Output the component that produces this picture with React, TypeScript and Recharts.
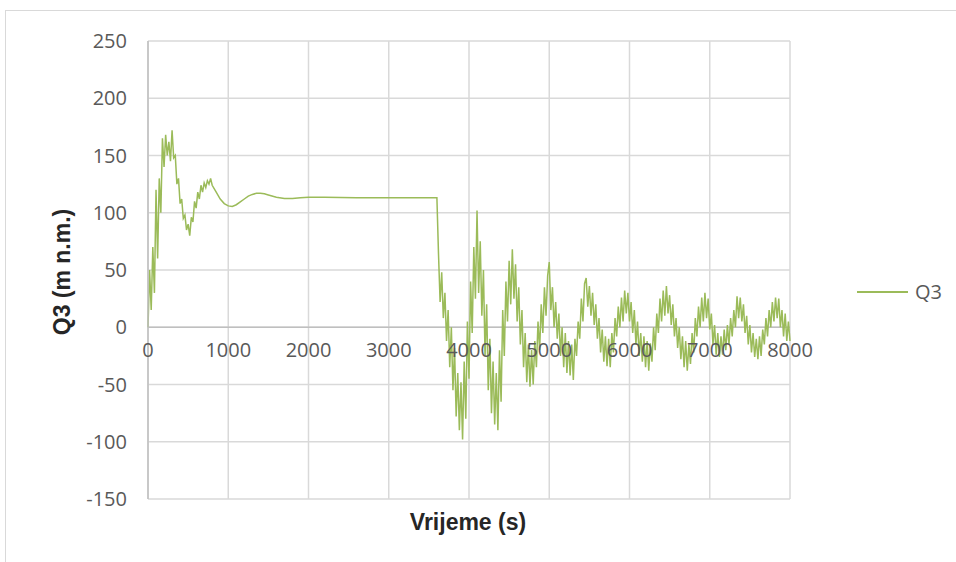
import React from 'react';
import {
  LineChart,
  Line,
  XAxis,
  YAxis,
  CartesianGrid,
  Legend,
  ReferenceLine,
} from 'recharts';

// start-up phase, sampled every 20 s
const startupTime = [
  0, 20, 40, 60, 80, 100, 120, 140, 160, 180,
  200, 220, 240, 260, 280, 300, 320, 340, 360, 380,
  400, 420, 440, 460, 480, 500, 520, 540, 560, 580,
  600, 620, 640, 660, 680, 700, 720, 740, 760, 780,
  800,
];
const startupQ3 = [
  0, 50, 15, 70, 30, 120, 60, 130, 100, 165,
  140, 168, 150, 162, 145, 172, 148, 150, 125, 130,
  108, 112, 95, 98, 85, 90, 80, 96, 92, 110,
  104, 118, 112, 124, 118, 126, 122, 128, 125, 130,
  124,
];

// smooth settling until the disturbance
const settleTime = [
  850, 900, 950, 1000, 1050, 1100, 1150, 1200, 1250, 1300,
  1350, 1400, 1450, 1500, 1600, 1700, 1800, 1900, 2000, 2200,
  2400, 2600, 2800, 3000, 3200, 3400, 3600,
];
const settleQ3 = [
  118, 112, 108, 106, 105.5, 107, 109.5, 112, 114.5, 116,
  117, 117, 116.5, 115.5, 113.5, 112.5, 112.5, 113, 113.5, 113.5,
  113.3, 113.2, 113.2, 113.2, 113.2, 113.2, 113.2,
];

// oscillations after the drop, sampled every 20 s
const transientTime = [
  3620, 3640, 3660, 3680, 3700, 3720, 3740, 3760, 3780, 3800,
  3820, 3840, 3860, 3880, 3900, 3920, 3940, 3960, 3980, 4000,
  4020, 4040, 4060, 4080, 4100, 4120, 4140, 4160, 4180, 4200,
  4220, 4240, 4260, 4280, 4300, 4320, 4340, 4360, 4380, 4400,
  4420, 4440, 4460, 4480, 4500, 4520, 4540, 4560, 4580, 4600,
  4620, 4640, 4660, 4680, 4700, 4720, 4740, 4760, 4780, 4800,
  4820, 4840, 4860, 4880, 4900, 4920, 4940, 4960, 4980, 5000,
  5020, 5040, 5060, 5080, 5100, 5120, 5140, 5160, 5180, 5200,
  5220, 5240, 5260, 5280, 5300, 5320, 5340, 5360, 5380, 5400,
  5420, 5440, 5460, 5480, 5500, 5520, 5540, 5560, 5580, 5600,
  5620, 5640, 5660, 5680, 5700, 5720, 5740, 5760, 5780, 5800,
  5820, 5840, 5860, 5880, 5900, 5920, 5940, 5960, 5980, 6000,
  6020, 6040, 6060, 6080, 6100, 6120, 6140, 6160, 6180, 6200,
  6220, 6240, 6260, 6280, 6300, 6320, 6340, 6360, 6380, 6400,
  6420, 6440, 6460, 6480, 6500, 6520, 6540, 6560, 6580, 6600,
  6620, 6640, 6660, 6680, 6700, 6720, 6740, 6760, 6780, 6800,
  6820, 6840, 6860, 6880, 6900, 6920, 6940, 6960, 6980, 7000,
  7020, 7040, 7060, 7080, 7100, 7120, 7140, 7160, 7180, 7200,
  7220, 7240, 7260, 7280, 7300, 7320, 7340, 7360, 7380, 7400,
  7420, 7440, 7460, 7480, 7500, 7520, 7540, 7560, 7580, 7600,
  7620, 7640, 7660, 7680, 7700, 7720, 7740, 7760, 7780, 7800,
  7820, 7840, 7860, 7880, 7900, 7920, 7940, 7960, 7980, 8000,
];
const transientQ3 = [
  64, 22, 48, 8, 30, -12, 15, -35, 0, -55,
  -18, -78, -40, -90, -48, -98, -30, -80, 5, -45,
  40, -5, 70, 25, 102, 30, 75, 10, 50, -25,
  20, -55, -10, -75, -30, -85, -40, -90, -20, -65,
  15, -25, 40, 5, 58, 20, 68, 25, 55, 5,
  35, -15, 15, -35, -5, -48, -15, -52, -20, -50,
  -12, -35, 5, -20, 20, -5, 35, 10, 45, 57,
  15, 35, 0, 22, -10, 12, -25, 0, -35, -5,
  -40, -12, -42, -15, -46, -10, -25, 5, -10, 25,
  5, 38, 43, 18, 36, 10, 30, 2, 20, -10,
  8, -22, -2, -30, -8, -34, -10, -35, -5, -22,
  8, -8, 18, 0, 26, 5, 32, 12, 30, 5,
  22, -5, 15, -15, 5, -25, -5, -30, -8, -35,
  -12, -38, -14, -30, 0, -20, 12, -5, 25, 5,
  32, 10, 36, 12, 28, 2, 20, -8, 8, -18,
  0, -28, -8, -35, -12, -38, -15, -32, -5, -22,
  8, -8, 18, 0, 26, 5, 30, 8, 25, -2,
  12, -15, 2, -24, -5, -26, -8, -24, -2, -20,
  2, -15, 8, -8, 15, 0, 27, 8, 26, 5,
  20, -5, 10, -15, 2, -22, -5, -26, -10, -28,
  -8, -25, -2, -15, 8, -8, 15, 0, 22, 5,
  26, 8, 25, 0, 15, -8, 12, -12, 5, -12,
];

const xTicks = [0, 1000, 2000, 3000, 4000, 5000, 6000, 7000, 8000];
const yTicks = [-150, -100, -50, 0, 50, 100, 150, 200, 250];

const allTime = [...startupTime, ...settleTime, ...transientTime];
const allQ3 = [...startupQ3, ...settleQ3, ...transientQ3];
const data = allTime.map((t, i) => ({ t, Q3: allQ3[i] }));

const W = 956;
const H = 562;
const PLOT_LEFT = 148;
const PLOT_RIGHT = 790;
const PLOT_TOP = 41;
const PLOT_BOTTOM = 499;
const Y_AXIS_W = 60;
const X_AXIS_H = 30;
const Y_MIN = -150;
const Y_MAX = 250;

const LINE_COLOR = '#9bbb59';
const TEXT_COLOR = '#595959';
const FONT = '"Open Sans", "Liberation Sans", sans-serif';

// the horizontal axis crosses at zero, so labels sit just under the zero line
const zeroShift = ((PLOT_BOTTOM - PLOT_TOP) * (0 - Y_MIN)) / (Y_MAX - Y_MIN);

const XTick = (props: any) => {
  const { x, payload } = props;
  const y = PLOT_BOTTOM - zeroShift + 30;
  return (
    <text x={x} y={y} textAnchor="middle" fill={TEXT_COLOR} fontSize={20} fontFamily={FONT}>
      {payload.value}
    </text>
  );
};

const renderLegend = () => (
  <svg width={90} height={30} style={{ overflow: 'visible' }}>
    <line x1={2} y1={12} x2={53} y2={12} stroke={LINE_COLOR} strokeWidth={2} />
    <text x={60} y={19} fill={TEXT_COLOR} fontSize={20} fontFamily={FONT}>
      Q3
    </text>
  </svg>
);

export default function App() {
  return (
    <div style={{ position: 'absolute', left: 0, top: 0, width: W, height: H, background: '#fff', overflow: 'hidden' }}>
      <div
        style={{
          position: 'absolute',
          left: 5,
          top: 10,
          width: W,
          height: H,
          borderTop: '1.5px solid #d9d9d9',
          borderLeft: '1.5px solid #d9d9d9',
        }}
      />
      <LineChart
        width={W}
        height={H}
        data={data}
        margin={{
          top: PLOT_TOP,
          right: W - PLOT_RIGHT,
          left: PLOT_LEFT - Y_AXIS_W,
          bottom: H - PLOT_BOTTOM - X_AXIS_H,
        }}
        style={{ position: 'absolute', left: 0, top: 0 }}
      >
        <CartesianGrid stroke="#d9d9d9" strokeWidth={1.5} />
        <XAxis
          dataKey="t"
          type="number"
          domain={[0, 8000]}
          ticks={xTicks}
          height={X_AXIS_H}
          axisLine={false}
          tickLine={false}
          tick={<XTick />}
          interval={0}
          label={{
            content: () => (
              <text x={468} y={530} textAnchor="middle" fill="#262626" fontSize={23} fontWeight="bold" fontFamily='"Liberation Sans", sans-serif'>
                Vrijeme (s)
              </text>
            ),
          }}
        />
        <YAxis
          type="number"
          domain={[Y_MIN, Y_MAX]}
          ticks={yTicks}
          width={Y_AXIS_W}
          axisLine={{ stroke: '#bfbfbf', strokeWidth: 1.5 }}
          tickLine={false}
          tickMargin={15}
          interval={0}
          tick={{ fill: TEXT_COLOR, fontSize: 20, fontFamily: FONT }}
          label={{
            content: () => (
              <text
                x={62}
                y={272}
                transform="rotate(-90, 62, 272)"
                textAnchor="middle"
                dominantBaseline="central"
                fill="#262626"
                fontSize={23}
                fontWeight="bold"
                fontFamily='"Liberation Sans", sans-serif'
              >
                Q3 (m n.m.)
              </text>
            ),
          }}
        />
        <ReferenceLine y={0} stroke="#bfbfbf" strokeWidth={1.5} />
        <Legend
          content={renderLegend}
          layout="horizontal"
          verticalAlign="middle"
          align="center"
          wrapperStyle={{ position: 'absolute', left: 855, top: 280, width: 90 }}
        />
        <Line
          type="linear"
          dataKey="Q3"
          stroke={LINE_COLOR}
          strokeWidth={1.5}
          dot={false}
          isAnimationActive={false}
        />
      </LineChart>
    </div>
  );
}
